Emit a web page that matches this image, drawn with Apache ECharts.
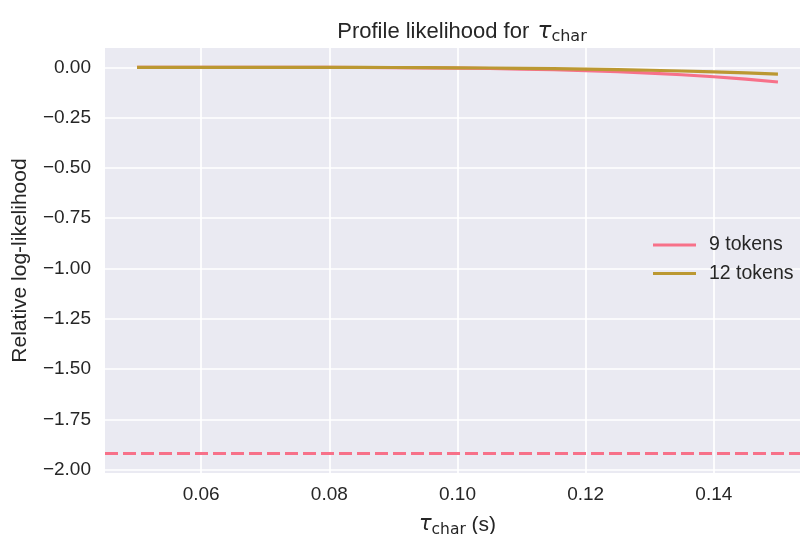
<!DOCTYPE html>
<html><head><meta charset="utf-8">
<script src="https://cdn.jsdelivr.net/npm/echarts@6/dist/echarts.min.js"></script>
<style>html,body{margin:0;padding:0;background:#fff}#c{width:800px;height:534px}</style>
</head><body><div id="c"></div>
<script>
const tauChar = [0.05,0.055,0.06,0.065,0.07,0.075,0.08,0.085,0.09,0.095,0.10,0.105,0.11,0.115,0.12,0.125,0.13,0.135,0.14,0.145,0.15];
const ll9tokens = [0,0,0,0,-0.0001,-0.0002,-0.0005,-0.0009,-0.0016,-0.0026,-0.0040,-0.0059,-0.0085,-0.0120,-0.0164,-0.0218,-0.0286,-0.0369,-0.0469,-0.0588,-0.0730];
const ll12tokens = [0,0,0,0,-0.0001,-0.0002,-0.0004,-0.0006,-0.0010,-0.0016,-0.0024,-0.0035,-0.0049,-0.0066,-0.0088,-0.0114,-0.0146,-0.0183,-0.0228,-0.0280,-0.0340];
const threshold = -1.92;
const xTicks = [0.06,0.08,0.10,0.12,0.14];
const yTicks = [0,-0.25,-0.5,-0.75,-1.0,-1.25,-1.5,-1.75,-2.0];
const seriesNames = ['9 tokens','12 tokens'];
const colors = ['#f77189','#bb9832'];

const FONT = 'Liberation Sans';
const TXT = '#262626';
const chart = echarts.init(document.getElementById('c'), null, {renderer:'canvas'});
const pair = (xs, ys) => xs.map((x,i)=>[x, ys[i]]);
chart.setOption({
  animation:false,
  backgroundColor:'#ffffff',
  title:{
    text:'Profile likelihood for {g| }{t|τ}{s|char}',
    left:457, top:14, textAlign:'center',
    textStyle:{
      fontFamily:FONT, fontSize:22, fontWeight:'normal', color:TXT, lineHeight:26,
      rich:{
        g:{fontFamily:FONT, fontSize:8, lineHeight:26},
        t:{fontFamily:'DejaVu Sans', fontStyle:'italic', fontSize:23, color:TXT, lineHeight:26},
        s:{fontFamily:'DejaVu Sans', fontSize:16, color:TXT, lineHeight:14, verticalAlign:'bottom'}
      }
    }
  },
  grid:{left:105, top:48, right:-10, bottom:61, outerBoundsMode:'none', containLabel:false,
    show:true, backgroundColor:'#eaeaf2', borderWidth:0},
  legend:{
    data:seriesNames, orient:'vertical', left:648, top:230,
    icon:'rect', itemWidth:43, itemHeight:3, itemGap:8.5,
    textStyle:{fontFamily:FONT, fontSize:19.5, color:TXT, lineHeight:20, padding:[0,0,0,8]}
  },
  xAxis:{
    type:'value', min:0.045, max:0.155,
    name:'{t|τ}{s|char} (s)', nameLocation:'middle', nameGap:39,
    nameTextStyle:{fontFamily:FONT, fontSize:21, color:TXT, lineHeight:26,
      rich:{
        t:{fontFamily:'DejaVu Sans', fontStyle:'italic', fontSize:21, color:TXT, lineHeight:26},
        s:{fontFamily:'DejaVu Sans', fontSize:15.5, color:TXT, lineHeight:14, verticalAlign:'bottom'}
      }},
    axisLine:{show:false},
    axisTick:{show:false, customValues:xTicks},
    axisLabel:{customValues:xTicks, fontFamily:FONT, fontSize:19, color:TXT, margin:12,
      formatter:v=>v.toFixed(2)},
    splitLine:{show:true, lineStyle:{color:'#ffffff', width:1.7}}
  },
  yAxis:{
    type:'value', min:-2.016, max:0.096,
    name:'Relative log-likelihood', nameLocation:'middle', nameGap:74, nameRotate:90,
    nameTextStyle:{fontFamily:FONT, fontSize:21, color:TXT},
    axisLine:{show:false},
    axisTick:{show:false, customValues:yTicks},
    axisLabel:{customValues:yTicks, fontFamily:FONT, fontSize:19, color:TXT, margin:14,
      formatter:v=>v.toFixed(2).replace('-','\u2212')},
    splitLine:{show:true, lineStyle:{color:'#ffffff', width:1.7}}
  },
  series:[
    {name:seriesNames[0], type:'line', data:pair(tauChar, ll9tokens), showSymbol:false, symbol:'none',
      color:colors[0], lineStyle:{color:colors[0], width:3.2}, z:3},
    {name:seriesNames[1], type:'line', data:pair(tauChar, ll12tokens), showSymbol:false, symbol:'none',
      color:colors[1], lineStyle:{color:colors[1], width:3.2}, z:4},
    {name:'threshold', type:'line', data:[], z:2,
      markLine:{symbol:'none', silent:true, label:{show:false},
        lineStyle:{color:colors[0], type:[13,5], width:3},
        data:[{yAxis:threshold}]}}
  ]
});
</script>
</body></html>
